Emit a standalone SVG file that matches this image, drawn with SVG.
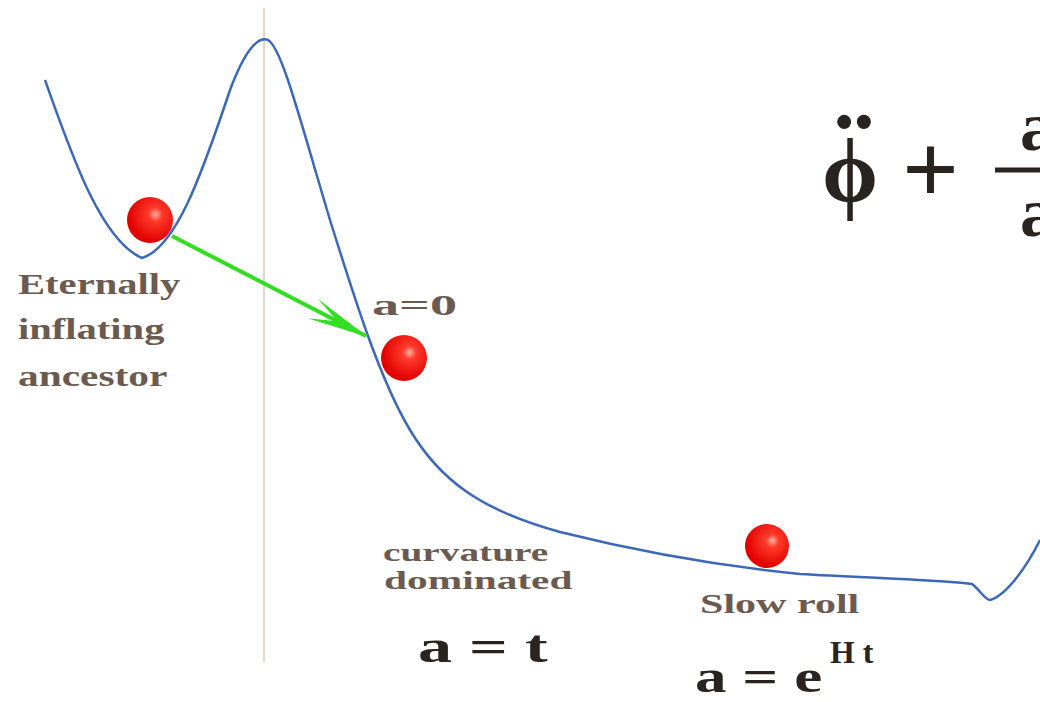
<svg xmlns="http://www.w3.org/2000/svg" width="1040" height="702" viewBox="0 0 1040 702">
<defs>
<radialGradient id="ball" cx="0.62" cy="0.38" r="0.6">
<stop offset="0" stop-color="#ffb0a0"/>
<stop offset="0.25" stop-color="#ff3a2a"/>
<stop offset="1" stop-color="#e00000"/>
</radialGradient>
<marker id="ah" markerWidth="64" markerHeight="26" refX="60" refY="13" orient="auto" markerUnits="userSpaceOnUse" viewBox="0 0 64 26">
<path d="M0,2 L62,13 L0,24 L28,13 z" fill="#33dd22"/>
</marker>
<style>
.lbl{font-family:"Liberation Serif",serif;font-weight:bold;fill:#6b5a50}
.eq{font-family:"Liberation Serif",serif;fill:#2a2420;font-weight:bold}
.ball{fill:url(#ball)}
</style>
</defs>
<rect width="1040" height="702" fill="#ffffff"/>
<line x1="264" y1="8" x2="264" y2="662" stroke="#d8c8b8" stroke-width="1.5"/>
<g id="potential">
<path d="M45,80 C70,150 100,240 142,258 C175,248 200,180 230,90 C245,50 258,36 268,40 C282,48 300,120 330,220 C355,300 380,380 410,430 C440,480 480,510 560,532 C640,552 720,566 800,574 C870,578 940,580 972,584 C980,590 985,600 990,600 C1005,596 1025,570 1040,540" fill="none" stroke="#3d68b8" stroke-width="2.5"/>
</g>
<g id="connectors">
<line x1="172" y1="236" x2="366" y2="336" stroke="#33dd22" stroke-width="4" marker-end="url(#ah)"/>
</g>
<g id="ball1"><circle class="ball" cx="150" cy="220" r="23"/></g>
<g id="ball2"><circle class="ball" cx="404" cy="358" r="23"/></g>
<g id="ball3"><circle class="ball" cx="767" cy="546" r="22"/></g>
<g id="ancestor">
<text class="lbl" transform="translate(18,294) scale(1.45,1)" font-size="29" textLength="112" lengthAdjust="spacingAndGlyphs">Eternally</text>
<text class="lbl" transform="translate(18,339) scale(1.45,1)" font-size="29" textLength="101" lengthAdjust="spacingAndGlyphs">inflating</text>
<text class="lbl" transform="translate(18,386) scale(1.45,1)" font-size="29" textLength="103" lengthAdjust="spacingAndGlyphs">ancestor</text>
</g>
<g id="a0"><text class="lbl" transform="translate(372,315) scale(1.35,1)" font-size="30" textLength="63" lengthAdjust="spacingAndGlyphs">a=0</text></g>
<g id="curv">
<text class="lbl" transform="translate(383,561) scale(1.45,1)" font-size="26" textLength="114" lengthAdjust="spacingAndGlyphs">curvature</text>
<text class="lbl" transform="translate(384,589) scale(1.45,1)" font-size="26" textLength="130" lengthAdjust="spacingAndGlyphs">dominated</text>
<text class="eq" transform="translate(418,662) scale(1.2,1)" font-size="46" textLength="108" lengthAdjust="spacingAndGlyphs">a = t</text>
</g>
<g id="slow">
<text class="lbl" transform="translate(700,613) scale(1.35,1)" font-size="28" textLength="118" lengthAdjust="spacingAndGlyphs">Slow roll</text>
<text class="eq" transform="translate(695,692) scale(1.2,1)" font-size="46" textLength="106" lengthAdjust="spacingAndGlyphs">a = e</text>
<text class="eq" transform="translate(830,663) scale(1.2,1)" font-size="32" textLength="36" lengthAdjust="spacingAndGlyphs">H t</text>
</g>
<g id="equation">
<text class="eq" x="822" y="202" font-size="90">ϕ</text>
<text class="eq" x="834" y="196" font-size="120">¨</text>
<text class="eq" x="902" y="203" font-size="100" font-weight="normal">+</text>
<line x1="995" y1="170" x2="1040" y2="170" stroke="#2a2420" stroke-width="5"/>
<text class="eq" x="1020" y="150" font-size="70">a</text>
<text class="eq" x="1020" y="236" font-size="70">a</text>
</g>
</svg>
